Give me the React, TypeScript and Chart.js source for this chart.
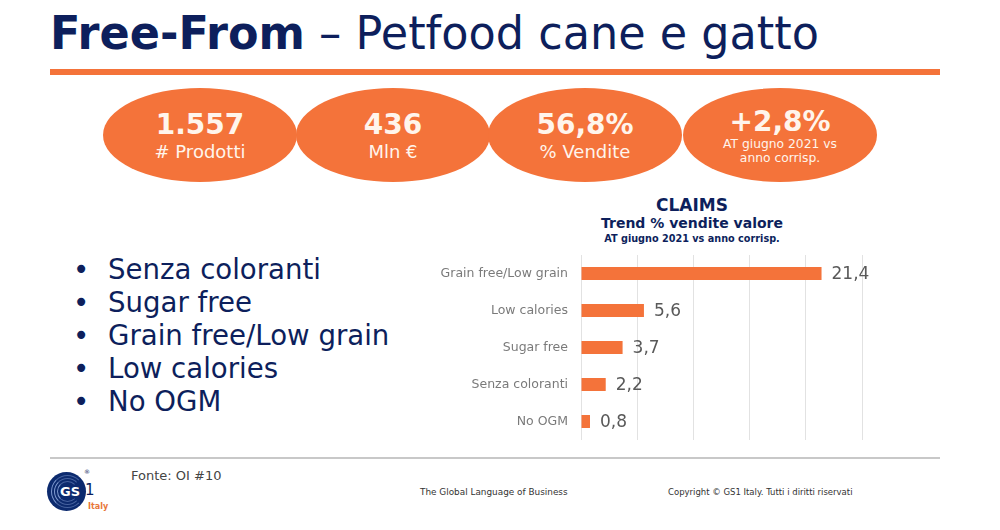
import React, { useEffect, useRef } from "react";
import { Chart, registerables } from "chart.js";

Chart.register(...registerables);

const categories = ["Grain free/Low grain", "Low calories", "Sugar free", "Senza coloranti", "No OGM"];
const values = [21.4, 5.6, 3.7, 2.2, 0.8];
const xTicks = [0, 5, 10, 15, 20, 25];
const bullets = ["Senza coloranti", "Sugar free", "Grain free/Low grain", "Low calories", "No OGM"];
const kpiValues = ["1.557", "436", "56,8%", "+2,8%"];
const kpiLabels = [["# Prodotti"], ["Mln €"], ["% Vendite"], ["AT giugno 2021 vs", "anno corrisp."]];

const NAVY = "#0d1f5c";
const ORANGE = "#f4733a";
const FONT = "'DejaVu Sans', Verdana, sans-serif";

const fmt = (v: number) => v.toFixed(1).replace(".", ",");

const valueLabels = {
  id: "valueLabels",
  afterDatasetsDraw(chart: any) {
    const ctx = chart.ctx;
    const meta = chart.getDatasetMeta(0);
    ctx.save();
    ctx.font = `17px ${FONT}`;
    ctx.fillStyle = "#595959";
    ctx.textAlign = "left";
    ctx.textBaseline = "middle";
    meta.data.forEach((bar: any, i: number) => {
      ctx.fillText(fmt(values[i]), bar.x + 10, bar.y + 1);
    });
    ctx.restore();
  },
};

function ClaimsChart() {
  const ref = useRef<HTMLCanvasElement>(null);
  useEffect(() => {
    if (!ref.current) return;
    const chart = new Chart(ref.current, {
      type: "bar",
      data: {
        labels: categories,
        datasets: [
          {
            data: values,
            backgroundColor: ORANGE,
            borderWidth: 0,
            categoryPercentage: 1,
            barPercentage: 0.35,
          },
        ],
      },
      options: {
        indexAxis: "y",
        animation: false,
        responsive: false,
        maintainAspectRatio: false,
        layout: { padding: { top: 7, bottom: 5, right: 48, left: 0 } },
        plugins: { legend: { display: false }, tooltip: { enabled: false }, title: { display: false } },
        scales: {
          x: {
            min: xTicks[0],
            max: xTicks[xTicks.length - 1],
            afterBuildTicks: (scale: any) => {
              scale.ticks = xTicks.map((v) => ({ value: v }));
            },
            ticks: { display: false },
            grid: { color: "#e2e2e2", drawTicks: false, lineWidth: 1 },
            border: { display: false },
          },
          y: {
            grid: { display: false, drawTicks: false },
            border: { display: false },
            ticks: { color: "#7a7a7a", font: { family: FONT, size: 12.5 }, padding: 13 },
            afterFit: (scale: any) => {
              scale.width = 151;
              scale.paddingTop = 0;
              scale.paddingBottom = 0;
            },
          },
        },
      },
      plugins: [valueLabels],
    } as any);
    return () => chart.destroy();
  }, []);
  return (
    <canvas
      ref={ref}
      width={480}
      height={197}
      style={{ position: "absolute", left: 430, top: 248, width: 480, height: 197 }}
    />
  );
}

const abs = (s: React.CSSProperties): React.CSSProperties => ({ position: "absolute", ...s });

export default function App() {
  const ellipseCenters = [200, 393, 585, 780];
  return (
    <div style={abs({ left: 0, top: 0, width: 1000, height: 530, background: "#fff", overflow: "hidden", fontFamily: FONT })}>
      {/* Title */}
      <div
        style={abs({
          left: 50,
          top: 5,
          fontSize: 46,
          color: NAVY,
          whiteSpace: "nowrap",
          lineHeight: "56px",
          transform: "scaleX(0.968)",
          transformOrigin: "left center",
        })}
      >
        <span style={{ fontWeight: "bold" }}>Free-From</span> – Petfood cane e gatto
      </div>
      <div style={abs({ left: 50, top: 69, width: 890, height: 6, background: ORANGE })} />

      {/* KPI ellipses */}
      {kpiValues.map((v, i) => (
        <div
          key={i}
          style={abs({
            left: ellipseCenters[i] - 97,
            top: 88,
            width: 194,
            height: 94,
            borderRadius: "50%",
            background: ORANGE,
            color: "#fff5ec",
            textAlign: "center",
          })}
        >
          <div style={abs({ left: 0, width: 194, top: i === 3 ? 19 : 22, fontSize: 28, fontWeight: "bold", lineHeight: "30px" })}>{v}</div>
          {kpiLabels[i].length === 1 ? (
            <div style={abs({ left: 0, width: 194, top: 54, fontSize: 18, lineHeight: "20px" })}>{kpiLabels[i][0]}</div>
          ) : (
            <div style={abs({ left: 0, width: 194, top: 49, fontSize: 12.3, lineHeight: "14px" })}>
              {kpiLabels[i].map((t, j) => (
                <div key={j}>{t}</div>
              ))}
            </div>
          )}
        </div>
      ))}

      {/* Bullets */}
      {bullets.map((b, i) => (
        <div key={i} style={abs({ left: 73, top: 254 + i * 33, fontSize: 27.6, color: NAVY, lineHeight: "32px", whiteSpace: "nowrap" })}>
          <span style={{ display: "inline-block", width: 35 }}>•</span>
          {b}
        </div>
      ))}

      {/* Chart titles */}
      <div style={abs({ left: 492, width: 400, top: 195, textAlign: "center", color: NAVY, fontWeight: "bold" })}>
        <div style={{ fontSize: 17, lineHeight: "20px" }}>CLAIMS</div>
        <div style={{ fontSize: 14, lineHeight: "17px" }}>Trend % vendite valore</div>
        <div style={{ fontSize: 9.7, lineHeight: "13px" }}>AT giugno 2021 vs anno corrisp.</div>
      </div>

      <ClaimsChart />

      {/* Footer */}
      <div style={abs({ left: 50, top: 457, width: 890, height: 2, background: "#c8c8c8" })} />
      <div style={abs({ left: 47, top: 472, width: 39, height: 39, borderRadius: "50%", background: "#0c2a6e", overflow: "hidden" })}>
        {[33, 27, 21].map((d, k) => (
          <div
            key={k}
            style={abs({
              left: 20 - d / 2,
              top: 19.5 - d / 2,
              width: d,
              height: d,
              boxSizing: "border-box",
              borderRadius: "50%",
              border: "1.5px solid transparent",
              borderLeftColor: "#7f9ad0",
              borderTopColor: "rgba(127,154,208,0.5)",
              borderBottomColor: "rgba(127,154,208,0.5)",
            })}
          />
        ))}
        <div style={abs({ left: 13, top: 12, fontSize: 13, color: "#fff", fontWeight: "bold", lineHeight: "15px" })}>GS</div>
      </div>
      <div style={abs({ left: 85, top: 481, fontSize: 15, color: NAVY, lineHeight: "18px" })}>1</div>
      <div style={abs({ left: 84, top: 468, fontSize: 6, color: NAVY })}>®</div>
      <div style={abs({ left: 88, top: 502, fontSize: 8, color: "#e8763a", fontWeight: "bold" })}>Italy</div>
      <div style={abs({ left: 131, top: 468, fontSize: 13, color: "#444", lineHeight: "16px" })}>Fonte: OI #10</div>
      <div style={abs({ left: 420, top: 487, fontSize: 8.9, color: "#333", whiteSpace: "nowrap" })}>The Global Language of Business</div>
      <div style={abs({ left: 668, top: 487, fontSize: 8.5, color: "#333", whiteSpace: "nowrap" })}>Copyright © GS1 Italy. Tutti i diritti riservati</div>
    </div>
  );
}
